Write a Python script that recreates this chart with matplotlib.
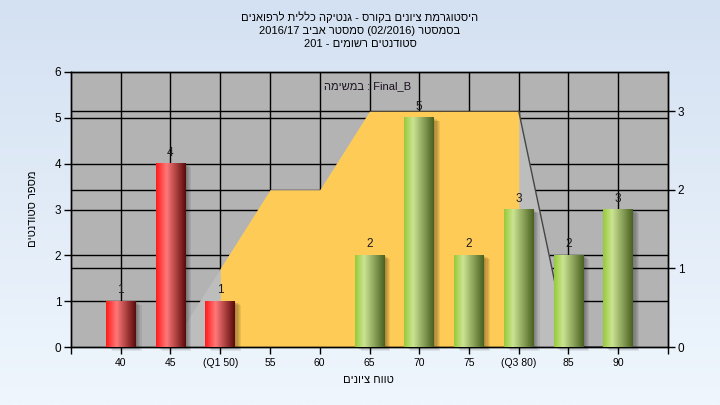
import numpy as np
import matplotlib
matplotlib.use('Agg')
import matplotlib.pyplot as plt
from matplotlib.patches import Rectangle
from matplotlib.colors import LinearSegmentedColormap
from matplotlib import transforms as mtrans

plt.rcParams['font.family'] = ['Liberation Sans', 'DejaVu Sans']

# data
grades = [40, 45, 50, 55, 60, 65, 70, 75, 80, 85, 90]
tick_labels = ['40', '45', '(Q1 50)', '55', '60', '65', '70', '75', '(Q3 80)', '85', '90']
counts = [1, 4, 1, 0, 0, 2, 5, 2, 3, 2, 3]
curve = [0, 0, 1, 2, 2, 3, 3, 3, 3, 0, 0]   # right axis series
q1, q3 = 50, 80

title_lines = ['היסטוגרמת ציונים בקורס - גנטיקה כללית לרפואנים',
               'בסמסטר (02/2016) סמסטר אביב 2016/17',
               'סטודנטים רשומים - 201']
legend_text = 'Final_B : במשימה'
xlabel = 'טווח ציונים'
ylabel = 'מספר סטודנטים'


def heb(s):
    # crude visual ordering: reverse words, reverse hebrew words' letters
    out = []
    for tok in s.split(' ')[::-1]:
        if any('\u0590' <= ch <= '\u05ff' for ch in tok):
            tok = tok[::-1]
        out.append(tok)
    return ' '.join(out)


fig = plt.figure(figsize=(7.2, 4.05), dpi=100)

# background gradient
bg = fig.add_axes([0, 0, 1, 1])
bg.set_zorder(-1)
bgcm = LinearSegmentedColormap.from_list('bg', ['#d4e1f2', '#eff6fd'])
bg.imshow(np.linspace(0, 1, 256)[:, None], cmap=bgcm, aspect='auto', extent=[0, 1, 0, 1])
bg.axis('off')

pos = [71 / 720, 1 - 347 / 405, 597 / 720, 275 / 405]
ax = fig.add_axes(pos)
ax2 = ax.twinx()
ax.set_zorder(2)
ax2.set_zorder(1)
ax.patch.set_visible(False)
ax2.patch.set_visible(True)
ax2.patch.set_facecolor('#b3b3b3')

ax.set_xlim(35, 95)
ax.set_ylim(0, 6)
ax2.set_ylim(0, 3.5)

# grid lines (under the area)
for g in grades:
    ax2.axvline(g, color='black', lw=1, zorder=0.5)
left_tr = mtrans.blended_transform_factory(ax2.transAxes, ax.transData)
for v in range(1, 6):
    ax2.plot([0, 1], [v, v], color='black', lw=1, transform=left_tr, zorder=0.5)
for v in [1, 2, 3]:
    ax2.axhline(v, color='black', lw=1, zorder=0.5)

# area on right axis
gx = np.array(grades)
cv = np.array(curve)
ax2.fill_between(gx, 0, cv, color='#bdbdbd', lw=0, zorder=1)
ax2.fill_between(gx, 0, cv, where=(gx >= q1) & (gx <= q3), color='#fecb57', lw=0, zorder=1.2)
m = gx >= q3
ax2.plot(gx[m], cv[m], color='#454545', lw=1, zorder=1.3)

# cylinder-like bars
red_cm = LinearSegmentedColormap.from_list('r', [(0, '#ff1c1c'), (0.35, '#ff7878'), (1, '#5c0a0a')])
green_cm = LinearSegmentedColormap.from_list('g', [(0, '#98ca3a'), (0.3, '#cbe492'), (1, '#4a6121')])
grad = np.linspace(0, 1, 64)[None, :]
w = 3.0
for g, c in zip(grades, counts):
    if c == 0:
        continue
    for k in range(1, 6):
        sh = mtrans.offset_copy(ax.transData, fig=fig, x=k * 1.2, y=-k * 0.7, units='dots')
        ax.add_patch(Rectangle((g - w / 2, 0), w, c, transform=sh, fc='black',
                               alpha=0.07, lw=0, zorder=2, clip_on=False))
    cm = red_cm if g <= q1 else green_cm
    ax.imshow(grad, cmap=cm, aspect='auto', extent=[g - w / 2, g + w / 2, 0, c], zorder=3)
    ax.annotate(str(c), (g, c), xytext=(0, 3.5), textcoords='offset points',
                ha='center', va='bottom', fontsize=8.5, color='#1a1a1a', zorder=4)

ax.set_xlim(35, 95)
ax.set_ylim(0, 6)

ax.set_xticks(range(35, 100, 5))
ax.set_xticklabels([''] + tick_labels + [''])
ax.set_yticks(range(0, 7))
ax2.set_yticks([0, 1, 2, 3])
ax.tick_params(axis='x', direction='out', length=5, width=1, labelsize=7.5, pad=3)
ax.tick_params(axis='y', direction='out', length=5, width=1, labelsize=8.5, pad=2)
ax2.tick_params(axis='y', direction='out', length=5, width=1, labelsize=8.5, pad=2)
for a in (ax, ax2):
    for s in a.spines.values():
        s.set_color('black')
        s.set_linewidth(1)

ax.text(0.497, 0.95, heb(legend_text), transform=ax.transAxes, ha='center', va='center',
        fontsize=8, color='#1a1020', zorder=5)

for i, line in enumerate(title_lines):
    fig.text(0.5, 1 - (17 + 13.5 * i) / 405, heb(line), ha='center', va='center', fontsize=8)
fig.text(368 / 720, 1 - 380 / 405, heb(xlabel), ha='center', va='center', fontsize=8)
fig.text(33 / 720, 1 - 209 / 405, heb(ylabel), ha='center', va='center', rotation=90, fontsize=8)

fig.savefig('out.png', dpi=100)
